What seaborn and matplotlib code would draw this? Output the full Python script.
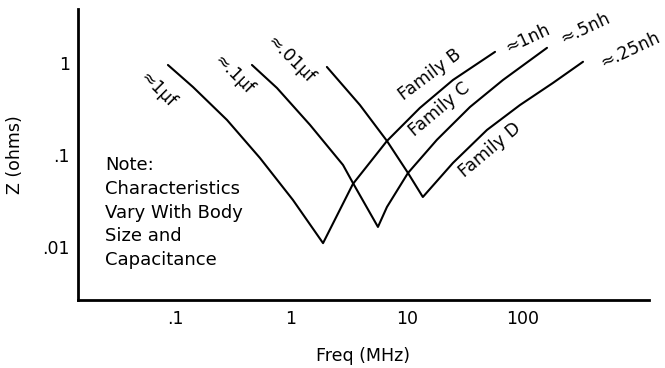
import matplotlib
matplotlib.use("Agg")
import matplotlib.pyplot as plt
import seaborn as sns
import pandas as pd

# ---- data ----
family_b_freq = [0.087, 0.143, 0.281, 0.54, 1.04, 1.89, 3.42, 6.72, 12.9, 24.9, 57.4]
family_b_z    = [0.951, 0.548, 0.240, 0.0928, 0.0324, 0.0110, 0.0484, 0.142, 0.324, 0.653, 1.32]
family_c_freq = [0.461, 0.757, 1.46, 2.81, 3.42, 5.62, 6.72, 10.2, 18.1, 34.9, 67.2, 161]
family_c_z    = [0.951, 0.535, 0.212, 0.0778, 0.0496, 0.0165, 0.0272, 0.0637, 0.146, 0.332, 0.653, 1.46]
family_d_freq = [2.04, 3.93, 6.72, 10.2, 13.7, 24.9, 48.9, 94.2, 181, 329]
family_d_z    = [0.905, 0.349, 0.142, 0.0637, 0.0349, 0.0819, 0.187, 0.349, 0.606, 1.03]

x_ticks = [0.1, 1, 10, 100]
x_tick_labels = [".1", "1", "10", "100"]
y_ticks = [0.01, 0.1, 1]
y_tick_labels = [".01", ".1", "1"]

note_text = "Note:\nCharacteristics\nVary With Body\nSize and\nCapacitance"

frames = []
for name, f, z in [("Family B", family_b_freq, family_b_z),
                   ("Family C", family_c_freq, family_c_z),
                   ("Family D", family_d_freq, family_d_z)]:
    frames.append(pd.DataFrame({"freq": f, "z": z, "curve": name}))
df = pd.concat(frames, ignore_index=True)

sns.set_style("white")
plt.rcParams['font.family'] = ['DejaVu Sans']
plt.rcParams['text.color'] = 'black'
plt.rcParams['axes.labelcolor'] = 'black'

fig = plt.figure(figsize=(6.65, 3.68), dpi=100)
ax = fig.add_axes([78/665, 1-300/368, (649-78)/665, (300-9)/368])

sns.lineplot(data=df, x="freq", y="z", units="curve", estimator=None,
             color="black", linewidth=1.5, ax=ax, sort=False)

ax.set_xscale("log")
ax.set_yscale("log")
ax.set_xlim(0.0146, 1219)
ax.set_ylim(0.00265, 3.86)
ax.set_xticks(x_ticks)
ax.set_xticklabels(x_tick_labels)
ax.set_yticks(y_ticks)
ax.set_yticklabels(y_tick_labels)
ax.minorticks_off()
ax.tick_params(axis="both", direction="in", length=8, width=1.8, labelsize=12.5,
               colors="black")
ax.tick_params(axis="x", pad=7)
ax.tick_params(axis="y", pad=6)
for s in ["top", "right"]:
    ax.spines[s].set_visible(False)
for s in ["left", "bottom"]:
    ax.spines[s].set_linewidth(2)
    ax.spines[s].set_color("black")

ax.set_xlabel("Freq (MHz)", fontsize=12.5, labelpad=14, color="black")
ax.set_ylabel("Z (ohms)", fontsize=12.5, labelpad=13, color="black")

ax.text(0.025, 0.098, note_text, fontsize=13, va="top", ha="left",
        linespacing=1.42, color="black")

fs = 12.5
def lab(x, y, s, rot):
    ax.text(x, y, s, fontsize=fs, rotation=rot, rotation_mode="anchor",
            ha="center", va="center", color="black")

lab(0.071, 0.51, "≈1µf", -45)
lab(0.323, 0.74, "≈.1µf", -45)
lab(0.98, 1.08, "≈.01µf", -45)
lab(15.8, 0.74, "Family B", 37)
lab(19.2, 0.31, "Family C", 40)
lab(52, 0.113, "Family D", 40)
lab(110, 1.87, "≈1nh", 25)
lab(342, 2.4, "≈.5nh", 25)
lab(836, 1.38, "≈.25nh", 25)

fig.savefig("out.png", dpi=100)
